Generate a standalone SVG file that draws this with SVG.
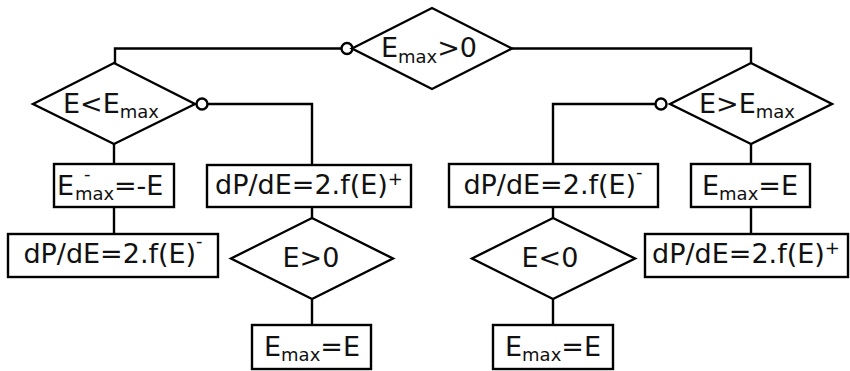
<svg xmlns="http://www.w3.org/2000/svg" width="850" height="371" viewBox="0 0 850 371">
<style>
.s{fill:#fff;stroke:#000;stroke-width:2.4}
.c{fill:none;stroke:#000;stroke-width:2.4}
text{font-family:"DejaVu Sans",Verdana,sans-serif;font-size:27px;fill:#111}
.m{text-anchor:middle}
.sub{font-size:18px}
.sup{font-size:18px}
</style>
<rect width="850" height="371" fill="#fff"/>
<g id="connectors">
<polyline class="c" points="342,48.5 115,48.5 115,63"/>
<polyline class="c" points="512,48.5 751,48.5 751,63"/>
<line class="c" x1="114" y1="144" x2="114" y2="164"/>
<line class="c" x1="114" y1="207" x2="114" y2="234"/>
<polyline class="c" points="207,104 312,104 312,165"/>
<line class="c" x1="312" y1="207" x2="312" y2="218"/>
<line class="c" x1="312" y1="299" x2="312" y2="325"/>
<polyline class="c" points="656,104 553,104 553,164"/>
<line class="c" x1="553" y1="207" x2="553" y2="218"/>
<line class="c" x1="553" y1="299" x2="553" y2="325"/>
<line class="c" x1="751" y1="144" x2="751" y2="164"/>
<line class="c" x1="751" y1="207" x2="751" y2="234"/>
<circle class="s" cx="347" cy="48.5" r="5.5"/>
<circle class="s" cx="202" cy="104" r="5.5"/>
<circle class="s" cx="661" cy="104" r="5.5"/>
</g>
<g id="d_top">
<polygon class="s" points="352,48.5 432,8 512,48.5 432,89"/>
<text class="m" x="429" y="57">E<tspan class="sub" dy="6">max</tspan><tspan dy="-6">&gt;0</tspan></text>
</g>
<g id="d_left">
<polygon class="s" points="33,104 114,63 195,104 114,144"/>
<text class="m" x="111" y="113">E&lt;E<tspan class="sub" dy="5">max</tspan></text>
</g>
<g id="b_emaxneg">
<rect class="s" x="54" y="164" width="120" height="43"/>
<text x="57" y="195">E</text>
<text class="sup" x="84" y="180">-</text>
<text class="sub" x="75" y="200">max</text>
<text x="114" y="195">=-E</text>
</g>
<g id="b_dpminus_l">
<rect class="s" x="8" y="234" width="210" height="43"/>
<text class="m" x="113" y="263">dP/dE=2.f(E)<tspan class="sup" dy="-16">-</tspan></text>
</g>
<g id="b_dpplus_l">
<rect class="s" x="207" y="165" width="204" height="42"/>
<text class="m" x="309" y="194">dP/dE=2.f(E)<tspan class="sup" dy="-9">+</tspan></text>
</g>
<g id="d_egt0">
<polygon class="s" points="231,258.5 312,218 393,258.5 312,299"/>
<text class="m" x="311" y="267">E&gt;0</text>
</g>
<g id="b_emax_l">
<rect class="s" x="252" y="325" width="119" height="44"/>
<text class="m" x="312" y="356">E<tspan class="sub" dy="5">max</tspan><tspan dy="-5">=E</tspan></text>
</g>
<g id="d_right">
<polygon class="s" points="670,104 751,63 832,104 751,144"/>
<text class="m" x="747" y="113">E&gt;E<tspan class="sub" dy="5">max</tspan></text>
</g>
<g id="b_dpminus_r">
<rect class="s" x="449" y="164" width="209" height="43"/>
<text class="m" x="553" y="194">dP/dE=2.f(E)<tspan class="sup" dy="-16">-</tspan></text>
</g>
<g id="b_emax_r">
<rect class="s" x="691" y="164" width="119" height="43"/>
<text class="m" x="750" y="195">E<tspan class="sub" dy="5">max</tspan><tspan dy="-5">=E</tspan></text>
</g>
<g id="d_elt0">
<polygon class="s" points="472,258.5 553,218 635,258.5 553,299"/>
<text class="m" x="550" y="267">E&lt;0</text>
</g>
<g id="b_emax_m">
<rect class="s" x="493" y="325" width="120" height="44"/>
<text class="m" x="553" y="356">E<tspan class="sub" dy="5">max</tspan><tspan dy="-5">=E</tspan></text>
</g>
<g id="b_dpplus_r">
<rect class="s" x="645" y="234" width="203" height="43"/>
<text class="m" x="746" y="263">dP/dE=2.f(E)<tspan class="sup" dy="-9">+</tspan></text>
</g>
</svg>
